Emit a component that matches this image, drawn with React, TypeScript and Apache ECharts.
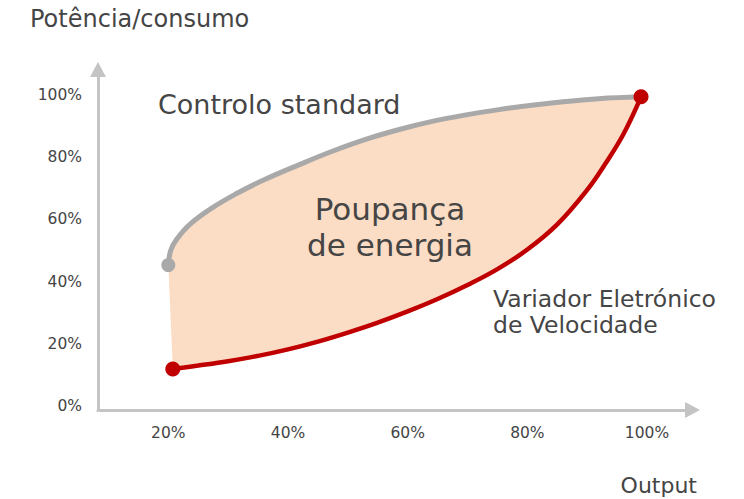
import React, { useEffect, useRef } from "react";
import * as echarts from "echarts";

// Axis tick labels (percent)
const xTicks = [20, 40, 60, 80, 100];
const yTicks = [0, 20, 40, 60, 80, 100];

// "Controlo standard" curve (output %, power %)
const standardX = [20, 20.4, 21.4, 23.6, 27.4, 31.4, 35.75, 41.9, 47.4, 53.1, 58.6, 64.1, 69.75, 75.25, 80.75, 86.4, 91.9, 99];
const standardY = [45.3, 50.0, 53.6, 58.4, 63.8, 68.3, 72.5, 77.6, 81.9, 85.8, 88.9, 91.5, 93.6, 95.3, 96.7, 97.9, 98.8, 99.4];

// "Variador Eletrónico de Velocidade" curve
const vsdX = [20.75, 25, 30, 35, 40, 45, 50, 55, 60, 65, 70, 75, 80, 85, 90, 93, 96, 99];
const vsdY = [11.9, 13.0, 14.4, 16.1, 18.2, 20.7, 23.6, 26.8, 30.4, 34.4, 38.9, 44.0, 50.3, 58.4, 69.5, 77.8, 87.2, 99.4];

const FONT = '"DejaVu Sans", sans-serif';
const TEXT = "#454545";
const GRAY = "#a9a9a9";
const RED = "#c00000";
const FILL = "#fbdcc4";
const AXIS = "#c4c4c4";

export default function App() {
  const ref = useRef<HTMLDivElement>(null);

  useEffect(() => {
    const chart = echarts.init(ref.current as HTMLDivElement, null, { renderer: "svg" });

    const grayData = standardX.map((x, i) =>
      i === 0 ? { value: [x, standardY[i]] } : { value: [x, standardY[i]], symbol: "none" }
    );
    const redData = vsdX.map((x, i) =>
      i === 0 || i === vsdX.length - 1
        ? { value: [x, vsdY[i]] }
        : { value: [x, vsdY[i]], symbol: "none" }
    );

    const txt = (text: string, x: number, y: number, size: number, align: string) => ({
      type: "text",
      x,
      y,
      silent: true,
      z: 10,
      style: {
        text,
        fontSize: size,
        fontFamily: FONT,
        fill: TEXT,
        align,
        verticalAlign: "middle",
        textAlign: align,
        textVerticalAlign: "middle",
      },
    });

    chart.setOption({
      animation: false,
      grid: { left: 98, right: 51.5, top: 69.5, bottom: 89, outerBoundsMode: "none" },
      xAxis: {
        type: "value",
        min: 8.25,
        max: 107.6,
        splitLine: { show: false },
        axisTick: { show: false },
        axisLine: {
          show: true,
          onZero: false,
          symbol: ["none", "triangle"],
          symbolSize: [16, 15],
          lineStyle: { color: AXIS, width: 3 },
        },
        axisLabel: {
          customValues: xTicks,
          formatter: "{value}%",
          color: TEXT,
          fontSize: 15.5,
          fontFamily: FONT,
          margin: 15,
        },
      },
      yAxis: {
        type: "value",
        min: -1.3,
        max: 108.2,
        splitLine: { show: false },
        axisTick: { show: false },
        axisLine: {
          show: true,
          onZero: false,
          symbol: ["none", "triangle"],
          symbolSize: [16, 15],
          lineStyle: { color: AXIS, width: 3 },
        },
        axisLabel: {
          customValues: yTicks,
          formatter: "{value}%",
          color: TEXT,
          fontSize: 15.5,
          fontFamily: FONT,
          margin: 16,
        },
      },
      series: [
        {
          type: "custom",
          z: 1,
          silent: true,
          data: [[standardX[0], standardY[0]]],
          renderItem: (_params: any, api: any) => {
            const pts: number[][] = [];
            for (let i = 0; i < standardX.length; i++) pts.push(api.coord([standardX[i], standardY[i]]));
            for (let i = vsdX.length - 1; i >= 0; i--) pts.push(api.coord([vsdX[i], vsdY[i]]));
            return { type: "polygon", shape: { points: pts }, style: { fill: FILL } };
          },
        },
        {
          type: "line",
          name: "Controlo standard",
          z: 3,
          smooth: 0.4,
          symbol: "circle",
          symbolSize: 14,
          showSymbol: true,
          lineStyle: { color: GRAY, width: 5 },
          itemStyle: { color: GRAY },
          data: grayData,
        },
        {
          type: "line",
          name: "Variador Eletrónico de Velocidade",
          z: 4,
          smooth: 0.4,
          symbol: "circle",
          symbolSize: 15,
          showSymbol: true,
          lineStyle: { color: RED, width: 4.5 },
          itemStyle: { color: RED },
          data: redData,
        },
      ],
      graphic: [
        txt("Potência/consumo", 30, 18.6, 24, "left"),
        txt("Controlo standard", 158, 104, 27, "left"),
        txt("Poupança", 390, 209, 31, "center"),
        txt("de energia", 390, 245, 31, "center"),
        txt("Variador Eletrónico", 493, 298.7, 23.5, "left"),
        txt("de Velocidade", 493, 325.3, 23.5, "left"),
        txt("Output", 697, 485, 22, "right"),
      ],
    });

    return () => chart.dispose();
  }, []);

  return (
    <div
      ref={ref}
      style={{ position: "absolute", left: 0, top: 0, width: 744, height: 499 }}
    />
  );
}
